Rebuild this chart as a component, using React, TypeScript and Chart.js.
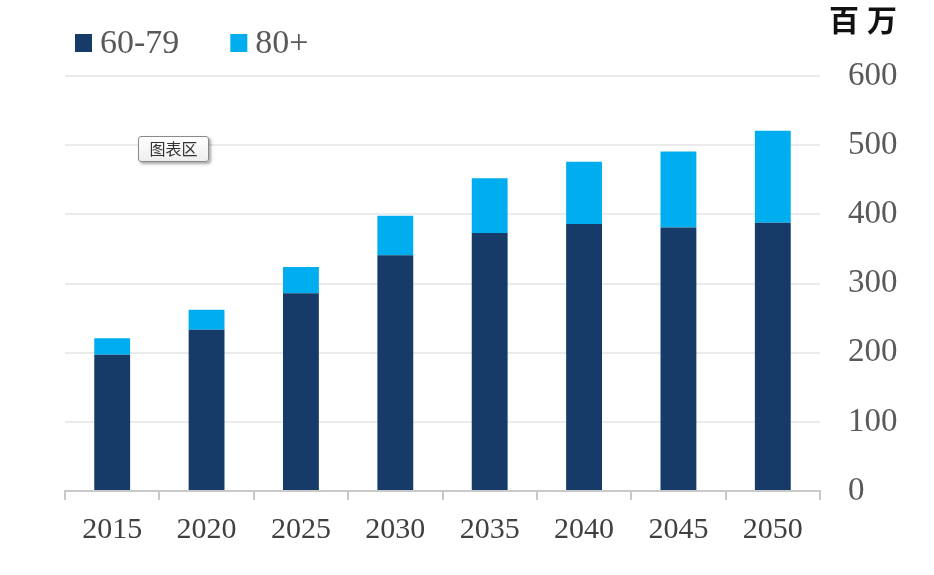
import React, { useEffect, useRef } from "react";
import { Chart, registerables } from "chart.js";

Chart.register(...registerables);

const years = ["2015", "2020", "2025", "2030", "2035", "2040", "2045", "2050"];
const age60to79 = [197, 233, 286, 341, 373, 386, 381, 388];
const age80plus = [24, 29, 38, 57, 79, 90, 110, 133];
const seriesLabels = ["60-79", "80+"];
const seriesColors = ["#163b68", "#00aeef"];
const yMax = 600;
const yStep = 100;
const unitLabel = "百万";
const areaTag = "图表区";

const legendPlugin = {
  id: "customLegend",
  afterDraw(chart: any) {
    const ctx = chart.ctx;
    ctx.save();
    ctx.font = "34px 'Liberation Serif'";
    ctx.textBaseline = "middle";
    ctx.textAlign = "left";
    let x = 75;
    const cy = 43;
    chart.data.datasets.forEach((ds: any) => {
      ctx.fillStyle = ds.backgroundColor;
      ctx.fillRect(x, cy - 9, 17, 18);
      ctx.fillStyle = "#595959";
      ctx.fillText(ds.label, x + 25, cy + 1);
      x += 25 + ctx.measureText(ds.label).width + 51;
    });
    ctx.restore();
  },
};

export default function App() {
  const ref = useRef<HTMLCanvasElement | null>(null);
  useEffect(() => {
    if (!ref.current) return;
    const chart = new Chart(ref.current, {
      type: "bar",
      data: {
        labels: years,
        datasets: [
          { label: seriesLabels[0], data: age60to79, backgroundColor: seriesColors[0] },
          { label: seriesLabels[1], data: age80plus, backgroundColor: seriesColors[1] },
        ],
      },
      options: {
        animation: false,
        responsive: false,
        maintainAspectRatio: false,
        layout: { padding: { top: 76, left: 65, right: 0, bottom: 0 } },
        datasets: { bar: { barPercentage: 0.38, categoryPercentage: 1 } },
        plugins: { legend: { display: false }, tooltip: { enabled: false } },
        scales: {
          x: {
            stacked: true,
            border: { display: true, color: "#c9c9c9", width: 2 },
            grid: {
              offset: true,
              drawOnChartArea: false,
              drawTicks: true,
              tickLength: 9,
              color: "#c9c9c9",
              lineWidth: 2,
            },
            ticks: {
              font: { family: "'Liberation Serif'", size: 30 },
              color: "#404040",
              padding: 12,
            },
            afterFit: (s: any) => {
              s.height = 84;
            },
          },
          y: {
            stacked: true,
            position: "right",
            min: 0,
            max: yMax,
            border: { display: false },
            grid: { drawTicks: false, color: "#ebebeb", lineWidth: 2 },
            ticks: {
              stepSize: yStep,
              font: { family: "'Liberation Serif'", size: 33 },
              color: "#595959",
              padding: 28,
            },
            afterFit: (s: any) => {
              s.width = 114;
            },
          },
        },
      },
      plugins: [legendPlugin],
    } as any);
    return () => chart.destroy();
  }, []);

  return (
    <div style={{ position: "absolute", left: 0, top: 0, width: 934, height: 575, background: "#fff" }}>
      <canvas ref={ref} width={934} height={575} style={{ display: "block" }} />
      <div
        style={{
          position: "absolute",
          left: 829,
          top: 0,
          fontFamily: "'Noto Sans CJK SC'",
          fontWeight: 700,
          fontSize: 30,
          letterSpacing: 8,
          color: "#111",
          lineHeight: "36px",
        }}
      >
        {unitLabel}
      </div>
      <div
        style={{
          position: "absolute",
          left: 138,
          top: 136,
          width: 71,
          height: 26,
          boxSizing: "border-box",
          border: "1px solid #8a8a8a",
          borderRadius: 3,
          background: "linear-gradient(#ffffff, #eeeeee)",
          boxShadow: "2px 2px 3px rgba(0,0,0,0.35)",
          fontFamily: "'Noto Sans CJK SC'",
          fontSize: 16,
          color: "#333",
          textAlign: "center",
          lineHeight: "23px",
        }}
      >
        {areaTag}
      </div>
    </div>
  );
}
